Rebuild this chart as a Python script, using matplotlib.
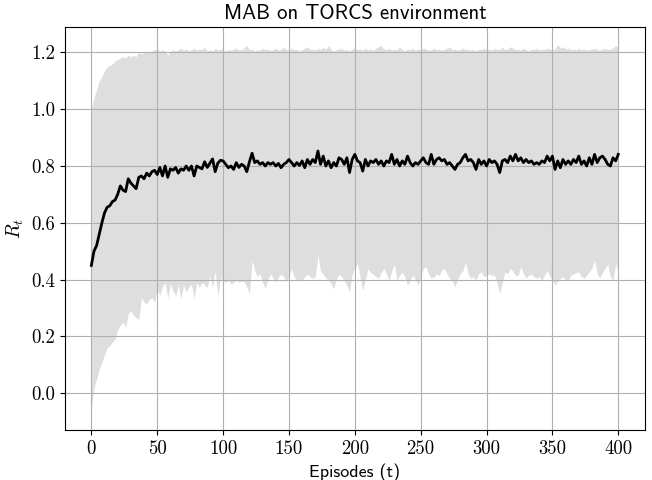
import numpy as np
import matplotlib
matplotlib.use("Agg")
import matplotlib.pyplot as plt

plt.rcParams["mathtext.fontset"] = "cm"
plt.rcParams["axes.unicode_minus"] = False

# episodes sampled every 2 steps
episodes = np.arange(0, 401, 2)

# mean reward per episode
mean_reward = [
    0.45, 0.50, 0.52, 0.56, 0.60, 0.635, 0.655, 0.66, 0.675, 0.68, 0.70, 0.73, 0.715, 0.71, 0.755, 0.74, 0.73, 0.72, 0.76, 0.765, 0.755, 0.775, 0.765, 0.78, 0.785,
    0.77, 0.795, 0.765, 0.80, 0.76, 0.79, 0.785, 0.795, 0.775, 0.79, 0.785, 0.80, 0.785, 0.80, 0.765, 0.80, 0.795, 0.79, 0.815, 0.795, 0.81, 0.825, 0.78, 0.81, 0.82,
    0.818, 0.806, 0.794, 0.80, 0.788, 0.812, 0.795, 0.806, 0.80, 0.78, 0.815, 0.845, 0.812, 0.818, 0.806, 0.812, 0.80, 0.812, 0.806, 0.812, 0.80, 0.809, 0.794, 0.806, 0.812,
    0.823, 0.812, 0.80, 0.812, 0.802, 0.818, 0.794, 0.823, 0.806, 0.823, 0.812, 0.853, 0.806, 0.835, 0.80, 0.818, 0.794, 0.812, 0.80, 0.829, 0.823, 0.806, 0.829, 0.777, 0.823,
    0.841, 0.818, 0.812, 0.782, 0.823, 0.80, 0.818, 0.812, 0.823, 0.806, 0.818, 0.80, 0.818, 0.812, 0.841, 0.806, 0.823, 0.80, 0.818, 0.806, 0.835, 0.812, 0.80, 0.812, 0.806,
    0.818, 0.829, 0.812, 0.806, 0.841, 0.806, 0.823, 0.829, 0.818, 0.823, 0.806, 0.812, 0.80, 0.788, 0.806, 0.812, 0.829, 0.841, 0.818, 0.823, 0.812, 0.788, 0.823, 0.806, 0.818,
    0.80, 0.823, 0.812, 0.818, 0.806, 0.777, 0.818, 0.823, 0.812, 0.835, 0.818, 0.841, 0.818, 0.829, 0.812, 0.823, 0.812, 0.818, 0.806, 0.812, 0.806, 0.818, 0.812, 0.835, 0.818,
    0.835, 0.788, 0.818, 0.794, 0.823, 0.806, 0.818, 0.806, 0.823, 0.812, 0.835, 0.806, 0.818, 0.80, 0.829, 0.806, 0.841, 0.812, 0.829, 0.835, 0.823, 0.806, 0.80, 0.829, 0.818,
    0.841,
]

# upper edge of the spread
upper = [
    1.00, 1.04, 1.07, 1.10, 1.115, 1.135, 1.15, 1.155, 1.16, 1.17, 1.175, 1.18, 1.185, 1.18, 1.19, 1.185, 1.19, 1.185, 1.20, 1.195, 1.20, 1.205, 1.20, 1.205, 1.21,
    1.212, 1.205, 1.21, 1.205, 1.19, 1.205, 1.21, 1.205, 1.21, 1.215, 1.208, 1.212, 1.205, 1.21, 1.215, 1.208, 1.212, 1.21, 1.218, 1.205, 1.21, 1.205, 1.215, 1.208, 1.212,
    1.21, 1.205, 1.21, 1.208, 1.212, 1.215, 1.208, 1.21, 1.215, 1.225, 1.21, 1.212, 1.205, 1.21, 1.208, 1.215, 1.21, 1.212, 1.206, 1.21, 1.215, 1.208, 1.212, 1.218, 1.21,
    1.208, 1.215, 1.21, 1.212, 1.205, 1.21, 1.215, 1.22, 1.21, 1.212, 1.208, 1.215, 1.21, 1.218, 1.212, 1.225, 1.21, 1.205, 1.21, 1.212, 1.215, 1.208, 1.21, 1.205, 1.212,
    1.215, 1.21, 1.212, 1.208, 1.215, 1.21, 1.212, 1.208, 1.215, 1.22, 1.225, 1.212, 1.21, 1.215, 1.208, 1.212, 1.21, 1.218, 1.21, 1.205, 1.212, 1.21, 1.215, 1.208, 1.212,
    1.21, 1.215, 1.212, 1.208, 1.21, 1.215, 1.21, 1.212, 1.208, 1.21, 1.215, 1.218, 1.21, 1.212, 1.208, 1.21, 1.215, 1.21, 1.212, 1.208, 1.21, 1.205, 1.212, 1.21, 1.215,
    1.21, 1.212, 1.208, 1.215, 1.21, 1.212, 1.218, 1.21, 1.212, 1.22, 1.215, 1.21, 1.212, 1.208, 1.215, 1.21, 1.205, 1.212, 1.21, 1.215, 1.208, 1.212, 1.21, 1.215, 1.212,
    1.21, 1.212, 1.228, 1.215, 1.22, 1.212, 1.215, 1.21, 1.212, 1.208, 1.215, 1.21, 1.212, 1.208, 1.21, 1.212, 1.215, 1.21, 1.208, 1.212, 1.215, 1.21, 1.212, 1.215, 1.225,
    1.215,
]

# lower edge of the spread
lower = [
    -0.06, 0.02, 0.05, 0.085, 0.11, 0.135, 0.16, 0.167, 0.18, 0.19, 0.224, 0.24, 0.25, 0.232, 0.28, 0.29, 0.275, 0.265, 0.26, 0.335, 0.32, 0.315, 0.33, 0.335, 0.32,
    0.366, 0.345, 0.375, 0.39, 0.335, 0.385, 0.36, 0.343, 0.38, 0.333, 0.38, 0.357, 0.375, 0.385, 0.333, 0.39, 0.373, 0.39, 0.38, 0.373, 0.413, 0.373, 0.43, 0.34, 0.405,
    0.395, 0.39, 0.398, 0.385, 0.39, 0.398, 0.39, 0.395, 0.392, 0.375, 0.35, 0.468, 0.433, 0.41, 0.42, 0.39, 0.368, 0.40, 0.42, 0.405, 0.39, 0.41, 0.42, 0.41, 0.392,
    0.41, 0.439, 0.41, 0.395, 0.40, 0.398, 0.41, 0.42, 0.41, 0.405, 0.41, 0.486, 0.43, 0.42, 0.405, 0.40, 0.385, 0.368, 0.40, 0.42, 0.41, 0.398, 0.38, 0.356, 0.42,
    0.44, 0.456, 0.41, 0.362, 0.40, 0.439, 0.425, 0.42, 0.41, 0.405, 0.425, 0.439, 0.42, 0.398, 0.43, 0.456, 0.398, 0.415, 0.427, 0.41, 0.38, 0.40, 0.415, 0.40, 0.38,
    0.41, 0.439, 0.445, 0.42, 0.405, 0.41, 0.42, 0.415, 0.433, 0.44, 0.42, 0.405, 0.395, 0.375, 0.40, 0.42, 0.43, 0.462, 0.42, 0.405, 0.41, 0.398, 0.42, 0.427, 0.41,
    0.415, 0.42, 0.415, 0.415, 0.39, 0.35, 0.39, 0.427, 0.42, 0.439, 0.43, 0.415, 0.415, 0.445, 0.42, 0.405, 0.415, 0.42, 0.41, 0.405, 0.41, 0.398, 0.415, 0.433, 0.41,
    0.40, 0.38, 0.395, 0.405, 0.41, 0.40, 0.398, 0.415, 0.42, 0.425, 0.427, 0.41, 0.405, 0.415, 0.427, 0.44, 0.468, 0.42, 0.405, 0.425, 0.44, 0.456, 0.41, 0.398, 0.456,
    0.427,
]

xticks = [0, 50, 100, 150, 200, 250, 300, 350, 400]
yticks = [0.0, 0.2, 0.4, 0.6, 0.8, 1.0, 1.2]

fig = plt.figure(figsize=(6.52, 4.8), dpi=100)
ax = fig.add_axes([0.0997, 0.104, 0.889, 0.84])

# spread band, then mean on top
ax.fill_between(episodes, lower, upper, color="#dedede", linewidth=0)
ax.plot(episodes, mean_reward, color="black", linewidth=2)

ax.grid(True, color="#b0b0b0", linewidth=0.8)
ax.set_xlim(-20, 420)
ax.set_ylim(-0.13, 1.29)
ax.set_xticks(xticks)
ax.set_yticks(yticks)
ax.set_xticklabels([str(t) for t in xticks])
ax.set_yticklabels(["%.1f" % t for t in yticks])
for lab in ax.get_xticklabels() + ax.get_yticklabels():
    lab.set_fontfamily("cmr10")
    lab.set_fontsize(13.5)

ax.set_title("MAB on TORCS environment", fontfamily="cmss10", fontsize=15)
ax.set_xlabel("Episodes (t)", fontfamily="cmss10", fontsize=13)
ax.set_ylabel(r"$R_t$", fontsize=14)

fig.savefig("out.png", dpi=100)
